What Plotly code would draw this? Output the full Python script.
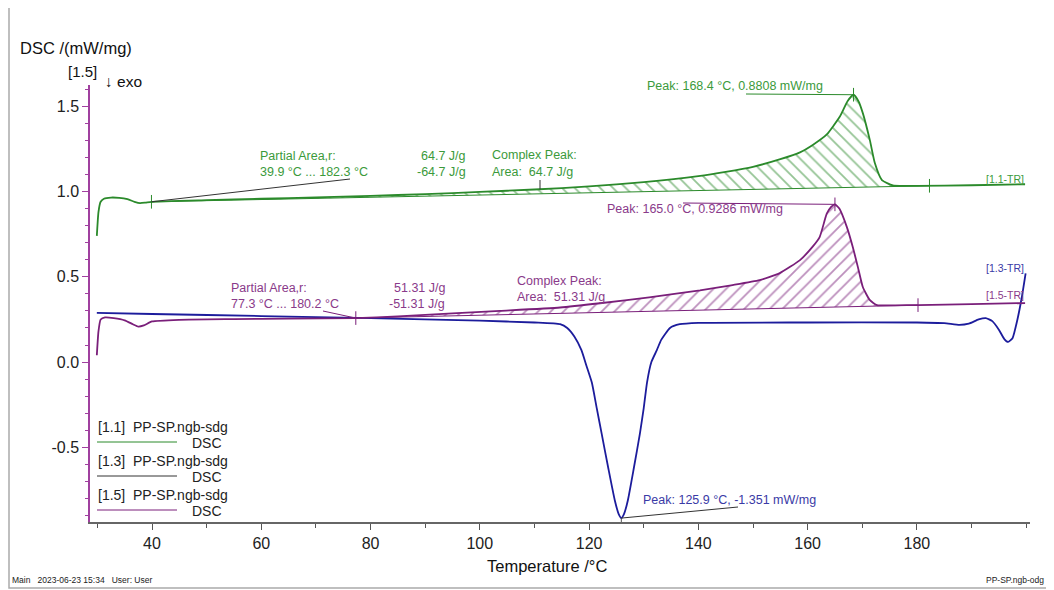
import numpy as np
import plotly.graph_objects as go

# ---------------- data ----------------
temp_11 = [29.9, 30.2, 30.6, 31.2, 32.5, 34.0, 35.5, 36.8, 37.8, 38.8, 39.9, 50, 60, 70, 80, 90,
           100, 110, 120, 130, 140, 145, 150, 155, 158.6, 161, 163.5, 165.9, 167.3, 168.4,
           169.3, 170.1, 171.4, 172.3, 173.6, 175.6, 180, 190, 199.8]
dsc_11 = [0.74, 0.88, 0.94, 0.958, 0.965, 0.963, 0.955, 0.94, 0.932, 0.935, 0.94, 0.95, 0.958,
          0.966, 0.975, 0.985, 0.998, 1.012, 1.03, 1.055, 1.09, 1.115, 1.145, 1.19, 1.23, 1.275,
          1.335, 1.44, 1.53, 1.568, 1.53, 1.46, 1.30, 1.167, 1.067, 1.037, 1.033, 1.037, 1.043]

temp_13 = [29.9, 40, 60, 80, 100, 110, 114.7, 116.0, 117.3, 118.6, 119.5, 120.5, 121.4, 122.3,
           123.5, 124.7, 125.4, 125.9, 126.4, 127.1, 128.2, 129.3, 130.0, 130.6, 131.4, 132.4,
           133.2, 134.8, 136.6, 140, 160, 180, 185, 187.8, 189.5, 191.3, 192.6, 193.8, 195.0,
           196.0, 196.7, 197.5, 198.4, 199.2, 199.9]
dsc_13 = [0.288, 0.282, 0.27, 0.258, 0.243, 0.232, 0.222, 0.2, 0.15, 0.07, -0.02, -0.12, -0.27,
          -0.42, -0.62, -0.81, -0.89, -0.915, -0.89, -0.81, -0.62, -0.42, -0.27, -0.12, 0.0,
          0.07, 0.13, 0.2, 0.222, 0.23, 0.232, 0.232, 0.228, 0.218, 0.225, 0.25, 0.258, 0.24,
          0.19, 0.135, 0.118, 0.14, 0.25, 0.38, 0.52]

temp_15 = [29.9, 30.2, 30.6, 31.4, 33.0, 35.0, 36.5, 37.5, 38.5, 40, 45, 55, 65, 77.3, 85, 95,
           103.7, 114.7, 122, 131, 140.3, 146, 151.2, 154.9, 158.6, 161.0, 162.2, 163.5, 164.3,
           165.0, 165.8, 167.2, 168.3, 169.2, 170.1, 171.4, 172.7, 176, 180.2, 190, 199.8]
dsc_15 = [0.04, 0.18, 0.25, 0.262, 0.258, 0.245, 0.222, 0.208, 0.215, 0.238, 0.248, 0.252,
          0.255, 0.258, 0.268, 0.285, 0.30, 0.32, 0.345, 0.38, 0.42, 0.45, 0.48, 0.522, 0.598,
          0.68, 0.733, 0.87, 0.91, 0.925, 0.9, 0.79, 0.67, 0.557, 0.44, 0.363, 0.334, 0.333,
          0.334, 0.34, 0.346]

area_limits_11 = [39.9, 182.3]
area_limits_15 = [77.3, 180.2]
area_11 = 64.7
area_15 = 51.31
peak_11 = [168.4, 0.8808]
peak_13 = [125.9, -1.351]
peak_15 = [165.0, 0.9286]

x_ticks = [40, 60, 80, 100, 120, 140, 160, 180]
y_ticks = [-0.5, 0.0, 0.5, 1.0, 1.5]
y_tick_labels = ["-0.5", "0.0", "0.5", "1.0", "1.5"]

# ---------------- styling ----------------
GREEN, GREEN_T = "#2b8a2b", "#3b9a3b"
BLUE, BLUE_T = "#1c1c9c", "#3a3aa6"
PURPLE, PURPLE_T = "#7a1f7a", "#8a3a8a"
MAGENTA = "#a0409f"
FONT = "Liberation Sans, Arial, sans-serif"

X_RANGE = [28.65, 200.7]
Y_RANGE = [-0.938, 1.625]
OFF = 8                      # page body margin of the browser
WIN_W, WIN_H = 1054, 590
W, H = WIN_W - OFF, WIN_H - OFF
L, T = 90 - OFF, 85 - OFF      # plot area left/top in figure pixels
R = W - (1030 - OFF)
B = H - (522 - OFF)
PW, PH = W - L - R, H - T - B


def px2paper(px, py):
    # px, py are window pixel positions as measured on the reference
    fx, fy = px - OFF, py - OFF
    return (fx - L) / PW, (H - B - fy) / PH


def px2data(px, py):
    x, y = px2paper(px, py)
    return (X_RANGE[0] + x * (X_RANGE[1] - X_RANGE[0]),
            Y_RANGE[0] + y * (Y_RANGE[1] - Y_RANGE[0]))


fig = go.Figure()


def hatched(temps, vals, lims, color, shape):
    t = np.array(temps, float)
    v = np.array(vals, float)
    y0 = float(np.interp(lims[0], t, v))
    y1 = float(np.interp(lims[1], t, v))
    fig.add_trace(go.Scatter(x=lims, y=[y0, y1], mode="lines",
                             line=dict(color=color, width=1), hoverinfo="skip"))
    m = (t > lims[0]) & (t < lims[1])
    xs = [lims[0]] + list(t[m]) + [lims[1]]
    ys = [y0] + list(v[m]) + [y1]
    fig.add_trace(go.Scatter(x=xs, y=ys, mode="lines", fill="tonexty",
                             line=dict(color=color, width=0, shape="spline", smoothing=0.5),
                             fillcolor="rgba(0,0,0,0)",
                             fillpattern=dict(shape=shape, fgcolor=color, bgcolor="rgba(255,255,255,0)",
                                              size=9, solidity=0.2),
                             hoverinfo="skip"))
    return y0, y1


gb0, gb1 = hatched(temp_11, dsc_11, area_limits_11, GREEN, "\\")
pb0, pb1 = hatched(temp_15, dsc_15, area_limits_15, PURPLE, "/")

for t, v, c in [(temp_13, dsc_13, BLUE), (temp_15, dsc_15, PURPLE), (temp_11, dsc_11, GREEN)]:
    fig.add_trace(go.Scatter(x=t, y=v, mode="lines",
                             line=dict(color=c, width=1.8, shape="spline", smoothing=0.5)))


def vtick(x, y, color, half=0.04, width=1):
    fig.add_shape(type="line", x0=x, x1=x, y0=y - half, y1=y + half,
                  line=dict(color=color, width=width), layer="above")


gpk_y = float(np.max(dsc_11))
gpk_x = temp_11[int(np.argmax(dsc_11))]
ppk_y = float(np.max(dsc_15))
ppk_x = temp_15[int(np.argmax(dsc_15))]
bpk_y = float(np.min(dsc_13))
bpk_x = temp_13[int(np.argmin(dsc_13))]

vtick(area_limits_11[0], gb0, GREEN)
vtick(area_limits_11[1], gb1, GREEN)
vtick(area_limits_15[0], pb0, PURPLE)
vtick(area_limits_15[1], pb1, PURPLE)
vtick(gpk_x, gpk_y, GREEN)
vtick(ppk_x, ppk_y, PURPLE)
fig.add_shape(type="line", x0=bpk_x, x1=bpk_x, y0=bpk_y - 0.035, y1=bpk_y,
              line=dict(color="#555", width=1))


def leader(p0, p1, color):
    a = px2data(*p0)
    fig.add_shape(type="line", x0=a[0], y0=a[1], x1=p1[0], y1=p1[1],
                  line=dict(color=color, width=1), layer="above")


leader((746, 94), (gpk_x, gpk_y), GREEN)
leader((683, 203), (ppk_x, ppk_y), PURPLE)
leader((738, 507), (bpk_x, bpk_y), "#333")
leader((350, 179), (area_limits_11[0], gb0), "#333")
leader((323, 311), (area_limits_15[0], pb0), PURPLE)
a = px2data(540, 180)
leader((540, 180), (a[0], float(np.interp(a[0], temp_11, dsc_11))), "#333")

annotations = []


def text(px, py, s, color="#222", size=13, anchor="left"):
    x, y = px2paper(px, py)
    annotations.append(dict(x=x, y=y, xref="paper", yref="paper", text=s, showarrow=False,
                            xanchor=anchor, yanchor="middle",
                            font=dict(family=FONT, size=size, color=color)))


text(645, 86, f"Peak: {peak_11[0]:.1f} °C, {peak_11[1]:.4f} mW/mg", GREEN_T, 12.5)
text(605, 209, f"Peak: {peak_15[0]:.1f} °C, {peak_15[1]:.4f} mW/mg", PURPLE_T, 12.5)
text(641, 500, f"Peak: {peak_13[0]:.1f} °C, {peak_13[1]:.3f} mW/mg", BLUE_T, 12.5)

text(258, 156, "Partial Area,r:", GREEN_T, 12.5)
text(468, 156, f"{area_11:.1f} J/g", GREEN_T, 12.5, "right")
text(258, 172, f"{area_limits_11[0]:.1f} °C ... {area_limits_11[1]:.1f} °C", GREEN_T, 12.5)
text(468, 172, f"-{area_11:.1f} J/g", GREEN_T, 12.5, "right")
text(490, 155, "Complex Peak:", GREEN_T, 12.5)
text(490, 172, f"Area:\u00a0 {area_11:.1f} J/g", GREEN_T, 12.5)

text(229, 288, "Partial Area,r:", PURPLE_T, 12.5)
text(447, 288, f"{area_15:.2f} J/g", PURPLE_T, 12.5, "right")
text(229, 304, f"{area_limits_15[0]:.1f} °C ... {area_limits_15[1]:.1f} °C", PURPLE_T, 12.5)
text(447, 304, f"-{area_15:.2f} J/g", PURPLE_T, 12.5, "right")
text(515, 281, "Complex Peak:", PURPLE_T, 12.5)
text(515, 297, f"Area:\u00a0 {area_15:.2f} J/g", PURPLE_T, 12.5)

text(1026, 179, "[1.1-TR]", GREEN_T, 10.5, "right")
text(1026, 268, "[1.3-TR]", BLUE_T, 10.5, "right")
text(1026, 295, "[1.5-TR]", PURPLE_T, 10.5, "right")

leg = [("[1.1]", GREEN), ("[1.3]", "#333"), ("[1.5]", PURPLE)]
shapes_extra = []
for i, (lab, c) in enumerate(leg):
    y0 = 427 + i * 34
    text(96, y0, f"{lab}\u00a0\u00a0PP-SP.ngb-sdg", "#222", 14)
    text(190, y0 + 16, "DSC", "#222", 14)
    xa, ya = px2paper(97, y0 + 15)
    xb, _ = px2paper(177, y0 + 15)
    shapes_extra.append(dict(type="line", xref="paper", yref="paper", x0=xa, x1=xb, y0=ya, y1=ya,
                             line=dict(color=c, width=1)))

text(18, 48, "DSC /(mW/mg)", "#111", 16.5)
text(66, 72, "[1.5]", "#111", 15)
text(103, 81, "\u2193 exo", "#111", 15.5)
text(547, 566, "Temperature /°C", "#111", 16.5, "center")
text(10, 580, "Main\u00a0\u00a0 2023-06-23 15:34\u00a0\u00a0 User: User", "#222", 8.5)
text(1046, 580, "PP-SP.ngb-odg", "#222", 8.5, "right")

fx0, fy0 = px2paper(9, 588)
fx1, fy1 = px2paper(1051, 5)
fx0, _ = px2paper(OFF + 1, 0)
shapes_extra.append(dict(type="rect", xref="paper", yref="paper", x0=px2paper(3 + 0, 0)[0] if False else fx0,
                         x1=fx1, y0=fy0, y1=fy1, line=dict(color="#aaaaaa", width=1.5)))
for s in shapes_extra:
    fig.add_shape(**s)

fig.update_layout(
    width=W, height=H, margin=dict(l=L, r=R, t=T, b=B),
    paper_bgcolor="white", plot_bgcolor="white", showlegend=False,
    annotations=annotations, font=dict(family=FONT),
    xaxis=dict(range=X_RANGE, tickvals=x_ticks, ticks="outside", ticklen=6, tickcolor="#555",
               showline=True, linecolor="#666", linewidth=2, showgrid=False, zeroline=False,
               tickfont=dict(size=16, color="#222"),
               minor=dict(dtick=10, tick0=0, ticks="outside", ticklen=4, tickcolor="#555")),
    yaxis=dict(range=Y_RANGE, tickvals=y_ticks, ticktext=y_tick_labels, ticks="outside", ticklen=6,
               tickcolor=MAGENTA, showline=True, linecolor=MAGENTA, linewidth=1.5,
               showgrid=False, zeroline=False, tickfont=dict(size=16, color="#222"),
               minor=dict(dtick=0.1, tick0=0, ticks="outside", ticklen=3, tickcolor=MAGENTA)),
)

fig.write_html("out.html")
